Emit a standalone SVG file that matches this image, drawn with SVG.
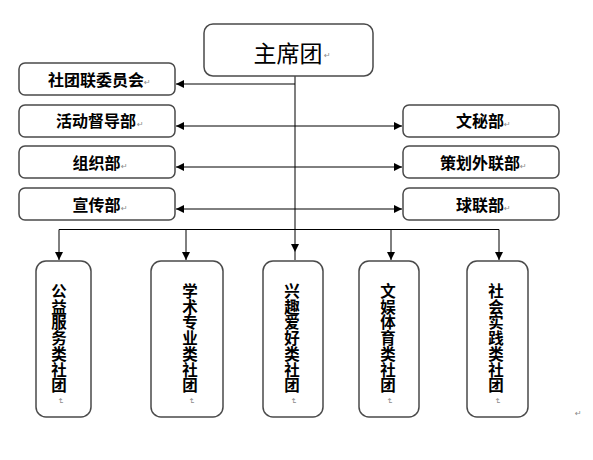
<svg xmlns="http://www.w3.org/2000/svg" width="593" height="460" viewBox="0 0 593 460">
<style>
.box{fill:#fff;stroke:#4a4a4a;stroke-width:1.5}
.lbl{font-family:"Noto Sans CJK SC","Noto Sans",sans-serif;font-size:16px;font-weight:bold;fill:#000;text-anchor:middle}
.vt{font-family:"Noto Sans CJK SC","Noto Sans",sans-serif;font-size:15.5px;font-weight:bold;fill:#000;text-anchor:middle}
.ttl{font-family:"Noto Sans CJK SC","Noto Sans",sans-serif;font-size:23px;fill:#000;text-anchor:middle}
.pm{font-family:"DejaVu Sans",sans-serif;font-size:8px;fill:#8a8a8a}
.ln{stroke:#000;stroke-width:1;fill:none}
.trunk{stroke:#7f7f7f;stroke-width:2;fill:none}
</style>
<defs>
<marker id="ah" viewBox="0 0 10 10" refX="10" refY="5" markerWidth="8" markerHeight="8" markerUnits="userSpaceOnUse" orient="auto-start-reverse">
<path d="M0,0 L10,5 L0,10 z" fill="#000"/>
</marker>
</defs>
<rect width="593" height="460" fill="#fff"/>
<g id="connectors">
<path class="trunk" d="M295,76 V252" marker-end="url(#ah)"/>
<path class="ln" d="M295,84 H176" stroke="#333" stroke-width="1.3" marker-end="url(#ah)"/>
<path class="ln" d="M176,126 H402" marker-start="url(#ah)" marker-end="url(#ah)"/>
<path class="ln" d="M176,167 H402" marker-start="url(#ah)" marker-end="url(#ah)"/>
<path class="ln" d="M176,209 H402" marker-start="url(#ah)" marker-end="url(#ah)"/>
<path class="ln" d="M59,229.5 H499"/>
<path class="ln" d="M59,229.5 V260" marker-end="url(#ah)"/>
<path class="ln" d="M186,229.5 V260" marker-end="url(#ah)"/>
<path class="ln" d="M391,229.5 V260" marker-end="url(#ah)"/>
<path class="ln" d="M499,229.5 V260" marker-end="url(#ah)"/>
<path d="M295,252 V260" stroke="#7f7f7f" stroke-width="2"/>
</g>
<g id="zhuxituan">
<rect class="box" x="204" y="24" width="169" height="52" rx="9"/>
<text class="ttl" x="288" y="62">主席团</text>
<text class="pm" x="324" y="58">↵</text>
</g>
<g id="shetuanlianweiyuanhui">
<rect class="box" x="19" y="63" width="156" height="32" rx="6"/>
<text class="lbl" x="96" y="85.5">社团联委员会</text>
<text class="pm" x="144" y="85">↵</text>
</g>
<g id="huodongdudaobu">
<rect class="box" x="19" y="105" width="156" height="32" rx="6"/>
<text class="lbl" x="96" y="127">活动督导部</text>
<text class="pm" x="137" y="127">↵</text>
</g>
<g id="zuzhibu">
<rect class="box" x="19" y="146" width="156" height="32" rx="6"/>
<text class="lbl" x="96.5" y="169">组织部</text>
<text class="pm" x="121" y="169">↵</text>
</g>
<g id="xuanchuanbu">
<rect class="box" x="19" y="188" width="156" height="32" rx="6"/>
<text class="lbl" x="96.5" y="211">宣传部</text>
<text class="pm" x="121" y="211">↵</text>
</g>
<g id="wenmibu">
<rect class="box" x="403" y="105" width="156" height="32" rx="6"/>
<text class="lbl" x="480" y="127">文秘部</text>
<text class="pm" x="504" y="127">↵</text>
</g>
<g id="cehuawailianbu">
<rect class="box" x="403" y="146" width="156" height="32" rx="6"/>
<text class="lbl" x="480" y="169">策划外联部</text>
<text class="pm" x="520" y="169">↵</text>
</g>
<g id="qiulianbu">
<rect class="box" x="403" y="188" width="156" height="32" rx="6"/>
<text class="lbl" x="480" y="211">球联部</text>
<text class="pm" x="504" y="211">↵</text>
</g>
<g id="gongyifuwu">
<rect class="box" x="36" y="261" width="55" height="156" rx="10"/>
<text class="vt"><tspan x="59" y="297">公</tspan><tspan x="59" dy="15.7">益</tspan><tspan x="59" dy="15.7">服</tspan><tspan x="59" dy="15.7">务</tspan><tspan x="59" dy="15.7">类</tspan><tspan x="59" dy="15.7">社</tspan><tspan x="59" dy="15.7">团</tspan></text>
<text class="pm" transform="translate(58,398) rotate(90)">↵</text>
</g>
<g id="xueshuzhuanye">
<rect class="box" x="151" y="261" width="72" height="156" rx="10"/>
<text class="vt"><tspan x="190" y="297">学</tspan><tspan x="190" dy="15.7">术</tspan><tspan x="190" dy="15.7">专</tspan><tspan x="190" dy="15.7">业</tspan><tspan x="190" dy="15.7">类</tspan><tspan x="190" dy="15.7">社</tspan><tspan x="190" dy="15.7">团</tspan></text>
<text class="pm" transform="translate(189,398) rotate(90)">↵</text>
</g>
<g id="xingquaihao">
<rect class="box" x="263" y="261" width="60" height="156" rx="10"/>
<text class="vt"><tspan x="292" y="297">兴</tspan><tspan x="292" dy="15.7">趣</tspan><tspan x="292" dy="15.7">爱</tspan><tspan x="292" dy="15.7">好</tspan><tspan x="292" dy="15.7">类</tspan><tspan x="292" dy="15.7">社</tspan><tspan x="292" dy="15.7">团</tspan></text>
<text class="pm" transform="translate(291,398) rotate(90)">↵</text>
</g>
<g id="wenyutiyu">
<rect class="box" x="359" y="261" width="60" height="156" rx="10"/>
<text class="vt"><tspan x="388" y="297">文</tspan><tspan x="388" dy="15.7">娱</tspan><tspan x="388" dy="15.7">体</tspan><tspan x="388" dy="15.7">育</tspan><tspan x="388" dy="15.7">类</tspan><tspan x="388" dy="15.7">社</tspan><tspan x="388" dy="15.7">团</tspan></text>
<text class="pm" transform="translate(387,398) rotate(90)">↵</text>
</g>
<g id="shehuishijian">
<rect class="box" x="467" y="261" width="61" height="156" rx="10"/>
<text class="vt"><tspan x="496" y="297">社</tspan><tspan x="496" dy="15.7">会</tspan><tspan x="496" dy="15.7">实</tspan><tspan x="496" dy="15.7">践</tspan><tspan x="496" dy="15.7">类</tspan><tspan x="496" dy="15.7">社</tspan><tspan x="496" dy="15.7">团</tspan></text>
<text class="pm" transform="translate(495,398) rotate(90)">↵</text>
</g>
<text class="pm" x="575" y="416">↵</text>
</svg>
